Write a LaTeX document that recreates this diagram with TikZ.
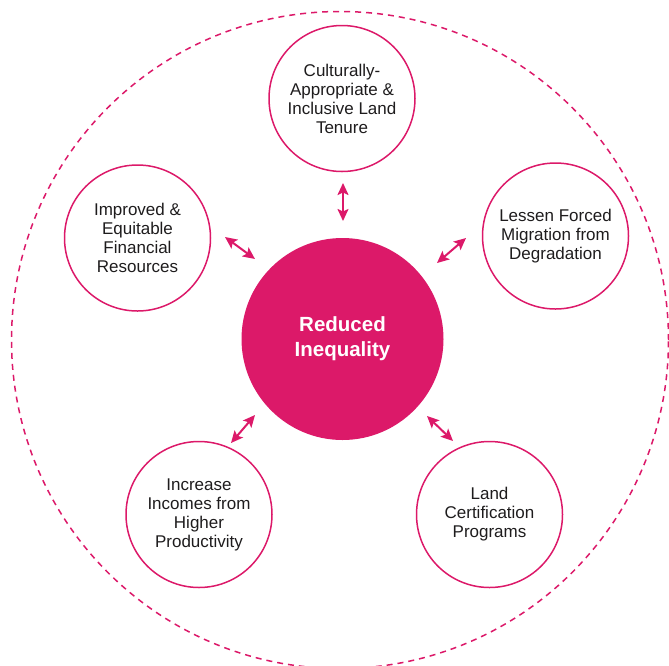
\documentclass[tikz,border=0pt]{standalone}
\usepackage{fontspec}
\setmainfont{Liberation Sans}
\usetikzlibrary{arrows.meta}
\definecolor{mag}{RGB}{220,25,105}
\definecolor{txt}{RGB}{30,28,29}
\begin{document}
\begin{tikzpicture}[x=1pt,y=-1pt,
  sat/.style={circle,draw=mag,line width=1.5pt,minimum size=146pt,inner sep=0pt,
    align=center,text=txt,font=\fontsize{17}{19}\selectfont},
  hub/.style={circle,fill=mag,minimum size=202pt,inner sep=0pt,align=center,
    text=white,font=\fontsize{20.5}{25}\selectfont\bfseries},
  link/.style={draw=mag,line width=2pt,
    {Stealth[length=12pt,width=11pt,inset=2.5pt]}-{Stealth[length=12pt,width=11pt,inset=2.5pt]}}]
\useasboundingbox (0,0) rectangle (669,665);
\node[circle,draw=mag,line width=1.5pt,dash pattern=on 6pt off 5pt,minimum size=657pt,inner sep=0pt] (outer) at (340,340) {};
\node[hub] (c) at (342.5,339) {Reduced\\Inequality};
\node[sat] (t) at (342,98.5) {Culturally-\\Appropriate \&\\Inclusive Land\\Tenure};
\node[sat] (l) at (137.5,238) {Improved \&\\Equitable\\Financial\\Resources};
\node[sat] (r) at (555.5,236) {Lessen Forced\\Migration from\\Degradation};
\node[sat] (bl) at (199,514.5) {Increase\\Incomes from\\Higher\\Productivity};
\node[sat] (br) at (489.5,514.5) {Land\\Certification\\Programs};
\coordinate (t1) at (343,183); \coordinate (t2) at (343,221);
\coordinate (l1) at (225,237); \coordinate (l2) at (255,259);
\coordinate (r1) at (466,238); \coordinate (r2) at (437,263);
\coordinate (bl1) at (231,443); \coordinate (bl2) at (255,415);
\coordinate (br1) at (453,441); \coordinate (br2) at (427,416);
\draw[link] (t1) -- (t2);
\draw[link] (l1) -- (l2);
\draw[link] (r1) -- (r2);
\draw[link] (bl1) -- (bl2);
\draw[link] (br1) -- (br2);
\end{tikzpicture}
\end{document}
